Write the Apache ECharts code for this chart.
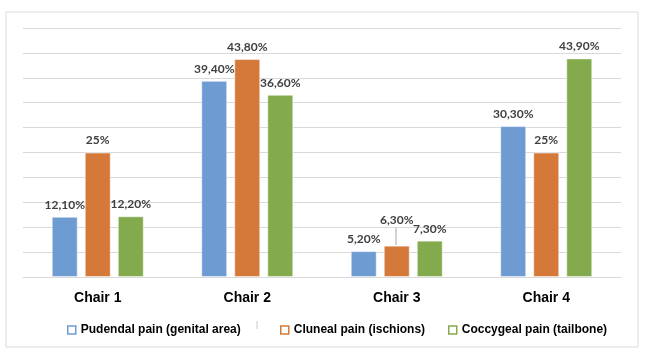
<!DOCTYPE html>
<html>
<head>
<meta charset="utf-8">
<script src="https://cdn.jsdelivr.net/npm/echarts@6/dist/echarts.min.js"></script>
<style>html,body{margin:0;padding:0;background:#fff;}#c{width:650px;height:359px;}</style>
</head>
<body>
<div id="c"></div>
<script>
const categories = ['Chair 1', 'Chair 2', 'Chair 3', 'Chair 4'];
const seriesNames = ['Pudendal pain (genital area)', 'Cluneal pain (ischions)', 'Coccygeal pain (tailbone)'];
const pudendal = [12.1, 39.4, 5.2, 30.3];
const cluneal = [25, 43.8, 6.3, 25];
const coccygeal = [12.2, 36.6, 7.3, 43.9];
const colors = ['#6f9bd3', '#d5793a', '#83ab4e'];
const legendLefts = [62, 275, 443];

function fmt(v) {
  if (Number.isInteger(v)) return v + '%';
  return v.toFixed(2).replace('.', ',') + '%';
}

const chart = echarts.init(document.getElementById('c'));
const allData = [pudendal, cluneal, coccygeal];
const series = allData.map((arr, i) => ({
  name: seriesNames[i],
  type: 'bar',
  barWidth: 26,
  barGap: '27%',
  data: arr.map((v, j) => {
    const item = { value: v };
    if (i === 1 && j === 2) {
      item.label = { distance: 20 };
    }
    return item;
  }),
  itemStyle: { color: colors[i], borderColor: 'rgba(255,255,255,0.5)', borderWidth: 1 },
  label: {
    show: true,
    position: 'top',
    distance: 6,
    formatter: p => fmt(p.value),
    fontFamily: 'Lato',
    fontWeight: 'bold',
    fontSize: 12,
    color: '#404040'
  }
}));

const legends = seriesNames.map((n, i) => ({
  data: [{ name: n, itemStyle: { color: '#fff', borderColor: colors[i], borderWidth: 1.5 } }],
  left: legendLefts[i],
  top: 319,
  icon: 'rect',
  itemWidth: 8,
  itemHeight: 8,
  textStyle: { fontFamily: 'Liberation Sans', fontWeight: 'bold', fontSize: 12, color: '#000' }
}));

chart.setOption({
  animation: false,
  color: colors,
  graphic: [
    { type: 'rect', shape: { x: 6, y: 12, width: 632, height: 335 }, style: { fill: 'none', stroke: '#d9d9d9', lineWidth: 1 }, z: -1 },
    { type: 'line', shape: { x1: 396, y1: 228, x2: 396, y2: 245 }, style: { stroke: '#a6a6a6', lineWidth: 1 } },
    { type: 'line', shape: { x1: 257, y1: 321, x2: 257, y2: 329 }, style: { stroke: '#c8c8c8', lineWidth: 1 } }
  ],
  grid: { left: 23, right: 29, top: 28, bottom: 82 },
  legend: legends,
  xAxis: {
    type: 'category',
    data: categories,
    axisTick: { show: false },
    axisLine: { lineStyle: { color: '#d9d9d9' } },
    axisLabel: { margin: 14, fontFamily: 'Liberation Sans', fontWeight: 'bold', fontSize: 14, color: '#000' }
  },
  yAxis: {
    type: 'value',
    min: 0,
    max: 50,
    interval: 5,
    axisLabel: { show: false },
    axisLine: { show: false },
    axisTick: { show: false },
    splitLine: { lineStyle: { color: '#d9d9d9' } }
  },
  series: series
});
</script>
</body>
</html>
